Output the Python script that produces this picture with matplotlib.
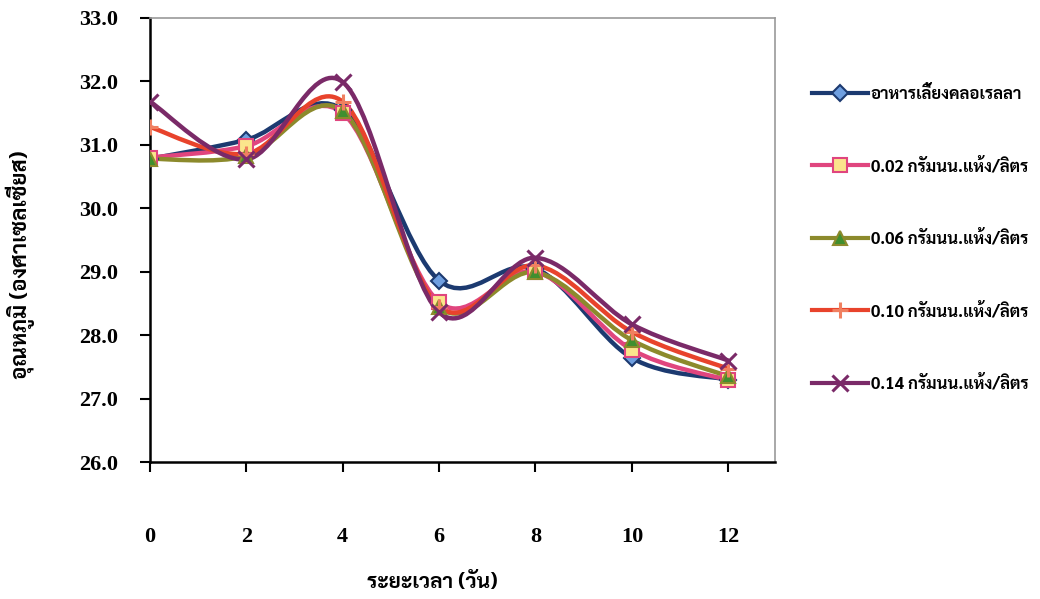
import matplotlib
matplotlib.use('Agg')
import matplotlib.pyplot as plt
import numpy as np
from matplotlib import font_manager
from matplotlib.path import Path
from matplotlib.patches import PathPatch
from matplotlib.lines import Line2D

# data (temperature, deg C, per day)
days = [0, 2, 4, 6, 8, 10, 12]
labels = ['อาหารเลี้ยงคลอเรลลา', '0.02 กรัมนน.แห้ง/ลิตร', '0.06 กรัมนน.แห้ง/ลิตร',
          '0.10 กรัมนน.แห้ง/ลิตร', '0.14 กรัมนน.แห้ง/ลิตร']
medium = [30.78, 31.08, 31.55, 28.86, 29.05, 27.64, 27.30]
c002 = [30.80, 30.98, 31.50, 28.52, 29.00, 27.77, 27.29]
c006 = [30.78, 30.82, 31.53, 28.44, 28.99, 27.92, 27.35]
c010 = [31.28, 30.86, 31.68, 28.45, 29.10, 28.05, 27.47]
c014 = [31.68, 30.77, 31.99, 28.36, 29.22, 28.17, 27.60]
series = [medium, c002, c006, c010, c014]
yticks = [26, 27, 28, 29, 30, 31, 32, 33]

# pick a font with Thai glyphs
names = {f.name for f in font_manager.fontManager.ttflist}
thai_font = 'DejaVu Sans'
for n in ['Sarabun', 'Noto Sans Thai', 'Noto Serif Thai', 'Niramit', 'Athiti']:
    if n in names:
        thai_font = n
        break
thai = [thai_font, 'DejaVu Sans']

# line colour, marker, marker face, marker edge, marker size
styles = [
    ('#1c3a70', 'D', '#6f9fe0', '#1c3a70', 8),
    ('#e0457e', 's', '#fbe58c', '#e0457e', 10),
    ('#8c8a2c', '^', '#3f8f2f', '#8c8a2c', 10),
    ('#e8432c', '+', '#f0a070', '#f08060', 12),
    ('#7a2a68', 'x', '#7a2a68', '#7a2a68', 11),
]


def smooth_path(x, y):
    # excel-like smoothed line: cubic beziers through every point
    p = np.column_stack([x, y]).astype(float)
    n = len(p)
    verts = [p[0]]
    codes = [Path.MOVETO]
    for i in range(n - 1):
        p0 = p[i - 1] if i > 0 else p[i]
        p3 = p[i + 2] if i + 2 < n else p[i + 1]
        c1 = p[i] + (p[i + 1] - p0) / 6.0
        c2 = p[i + 1] - (p3 - p[i]) / 6.0
        verts += [c1, c2, p[i + 1]]
        codes += [Path.CURVE4] * 3
    return Path(verts, codes)


fig = plt.figure(figsize=(10.4, 5.99), dpi=100)
ax = fig.add_axes([0.1442, 0.2287, 0.6010, 0.7413])

handles = []
for vals, lab, (lc, mk, mf, me, ms) in zip(series, labels, styles):
    ax.add_patch(PathPatch(smooth_path(days, vals), fill=False, edgecolor=lc, lw=3.2, zorder=2))
    mew = 2.2 if mk in '+x' else 1.5
    ax.plot(days, vals, ls='none', marker=mk, ms=ms, mfc=mf, mec=me, mew=mew, zorder=3)
    handles.append(Line2D([], [], color=lc, lw=3, marker=mk, ms=ms, mfc=mf, mec=me, mew=mew))

ax.set_xlim(0, 12.97)
ax.set_ylim(26, 33)
ax.set_xticks(days)
ax.set_yticks(yticks)
ax.set_yticklabels([f'{v:.1f}' for v in yticks])
ax.tick_params(axis='both', direction='out', length=7, width=1.5, labelsize=16)
ax.tick_params(axis='x', pad=40)
ax.tick_params(axis='y', pad=16)
for lab in ax.get_xticklabels() + ax.get_yticklabels():
    lab.set_fontfamily('Liberation Serif')
    lab.set_fontweight('bold')

ax.spines['left'].set_linewidth(1.8)
ax.spines['bottom'].set_linewidth(1.8)
ax.spines['top'].set_color('#999999')
ax.spines['right'].set_color('#999999')
ax.spines['top'].set_linewidth(1.2)
ax.spines['right'].set_linewidth(1.2)

ax.set_xlabel('ระยะเวลา (วัน)', family=thai, fontweight='bold', fontsize=15)
ax.xaxis.set_label_coords(0.452, -0.272)
ax.xaxis.label.set_va('center')
ax.set_ylabel('อุณหภูมิ (องศาเซลเซียส)', family=thai, fontweight='bold', fontsize=16)
ax.yaxis.set_label_coords(-0.208, 0.444)
ax.yaxis.label.set_va('center')

leg = fig.legend(handles, labels, loc='upper left', bbox_to_anchor=(0.766, 0.882),
                 frameon=False, handlelength=3.4, handletextpad=0.15, labelspacing=3.3,
                 prop={'family': thai, 'weight': 'bold', 'size': 12})

fig.savefig('out.png')
